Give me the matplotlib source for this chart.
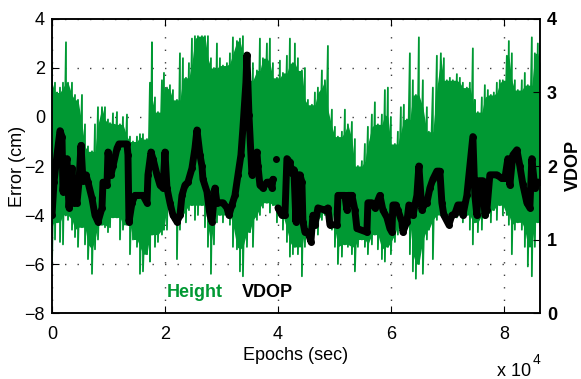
import numpy as np
import matplotlib.pyplot as plt

# Height error (cm): upper and lower edge of the noisy trace, read at these epochs (s)
env_epochs = [
    0, 531, 885, 1416, 1947, 2478, 2832, 3540, 4071, 4602,
    5310, 5841, 6372, 7080, 7611, 8142, 8850, 9381, 9912, 10266,
    10797, 11505, 12036, 12567, 13275, 13806, 14337, 15045, 15576, 16107,
    16815, 17346, 17700, 18231, 18762, 19470, 19824, 20355, 20886, 21417,
    22125, 22656, 23187, 23718, 24249, 24780, 25311, 25842, 26550, 27081,
    27612, 28143, 28674, 29205, 29736, 30267, 30975, 31506, 32037, 32745,
    33276, 33807, 34515, 35046, 35577, 36285, 36816, 37347, 38055, 38586,
    39117, 39825, 40356, 40887, 41595, 42126, 42657, 43011, 43542, 44250,
    44781, 45312, 46020, 46551, 47082, 47790, 48321, 48852, 49560, 50091,
    50622, 51330, 51861, 52392, 53100, 53631, 54162, 54870, 55401, 55932,
    56640, 57171, 57702, 58410, 58941, 59472, 60003, 60711, 61242, 61773,
    62304, 62835, 63366, 63897, 64428, 64959, 65667, 66375, 66729, 67437,
    68145, 68853, 69384, 69915, 70446, 70977, 71685, 72216, 72747, 73455,
    73986, 74517, 74871, 75402, 76110, 76641, 77172, 77703, 78234, 78765,
    79296, 79827, 80535, 80889, 81420, 81951, 82482, 83190, 83721, 84252,
    84960, 85491, 86022, 86400,
]
height_high = [
    2.2, 1.4, 1.0, 1.2, 1.4, 3.05, 1.4, 1.4, 0.9, 0.7,
    0.9, -0.3, -1.2, -1.4, -0.3, 0.4, 0.4, 0.4, -0.1, -0.25,
    0.15, 0.2, -0.3, 0.0, 0.1, -0.8, -1.0, -0.8, -0.7, -0.7,
    -0.9, 1.4, 3.05, 0.8, 0.2, 1.5, 1.8, 1.2, 1.3, 1.1,
    0.7, 2.6, 2.4, 1.6, 2.2, 3.2, 3.3, 3.3, 3.3, 3.3,
    3.3, 2.4, 2.0, 3.0, 2.4, 2.1, 2.2, 2.6, 3.25, 3.1,
    3.2, 3.3, 2.6, 1.5, 2.2, 1.9, 3.2, 2.4, 3.0, 3.2,
    2.2, 1.6, 2.3, 1.8, 2.5, 3.2, 2.2, 3.0, 2.4, 1.9,
    2.0, 0.7, 0.5, 1.0, 1.2, 1.9, 1.5, 2.9, 0.3, -0.4,
    -0.8, -0.6, 0.3, -0.3, -0.2, -0.9, -2.0, -1.8, -1.1, -0.4,
    0.1, 0.6, -0.3, 0.1, 1.1, 1.2, 0.0, -1.1, -0.6, 0.4,
    0.5, -0.1, 2.6, 1.5, 0.9, 3.25, 1.5, 0.4, -0.6, 1.2,
    2.5, 2.6, 2.4, 1.5, 1.6, 1.5, 1.75, 1.6, 1.4, 1.2,
    1.4, 2.8, 0.7, 0.2, 0.8, 1.3, 1.1, 0.9, 1.0, 1.4,
    1.5, 1.5, 2.5, 3.1, 2.6, 1.5, 1.1, 1.5, 1.8, 1.3,
    3.25, 2.6, 3.0, 2.9,
]
height_low = [
    -6.0, -5.0, -4.3, -5.1, -5.2, -4.0, -4.2, -4.6, -4.9, -5.3,
    -4.5, -5.2, -5.8, -6.4, -5.4, -5.0, -4.4, -4.5, -4.7, -4.5,
    -4.1, -4.1, -5.0, -4.6, -4.4, -5.6, -5.0, -5.3, -6.4, -6.3,
    -5.6, -5.9, -4.8, -5.3, -5.1, -4.8, -4.6, -4.6, -3.6, -4.2,
    -5.8, -4.6, -4.0, -4.3, -3.8, -3.6, -4.2, -4.0, -3.6, -4.5,
    -5.3, -6.4, -5.2, -4.3, -4.0, -4.3, -4.0, -4.4, -5.3, -5.4,
    -6.3, -6.5, -5.3, -4.7, -5.3, -4.2, -4.0, -3.7, -3.5, -3.9,
    -3.6, -4.3, -4.0, -4.6, -5.1, -5.7, -5.6, -5.3, -5.6, -6.5,
    -5.3, -4.6, -4.8, -4.4, -4.8, -4.2, -4.0, -3.8, -4.6, -5.3,
    -6.0, -5.7, -5.2, -5.3, -5.6, -6.3, -5.3, -5.0, -5.3, -5.6,
    -5.2, -4.8, -5.4, -5.8, -5.9, -5.3, -5.6, -5.1, -4.8, -4.4,
    -4.5, -4.3, -5.6, -6.3, -6.6, -6.0, -6.4, -5.0, -4.6, -5.8,
    -4.2, -4.0, -4.1, -4.0, -4.2, -4.0, -4.1, -4.0, -4.3, -4.0,
    -4.6, -5.2, -4.3, -4.7, -4.6, -4.0, -4.0, -4.3, -3.8, -4.2,
    -3.6, -4.0, -4.0, -4.4, -5.6, -4.6, -4.3, -4.6, -5.3, -6.1,
    -6.5, -5.3, -4.3, -4.4,
]

# VDOP trace (nan = gap around the lone sample near 4e4 s)
vdop_epochs = [
    0, 354, 885, 1416, 1770, 1947, 2301, 2655, 3009, 3540,
    3894, 4425, 4779, 5133, 5487, 6018, 6372, 7080, 7611, 8142,
    8850, 9027, 9735, 9912, 10443, 10797, 11505, 11859, 13275, 13452,
    13629, 14160, 14691, 15045, 16107, 16815, 16992, 17523, 17877, 18585,
    19116, 19647, 20001, 20355, 20886, 21417, 22125, 22656, 23010, 23541,
    24072, 24780, 25311, 25665, 26196, 26550, 26727, 27435, 27966, 28320,
    28851, 29205, 30267, 30975, 31329, 31860, 32391, 32922, 33453, 33807,
    34338, 34515, 34869, 35400, 35577, 36285, 36462, 36816, 37347, 38055,
    38586, 38940, 39117, 39380, 39648, 39820, 40002, 40710, 41241, 41595,
    42126, 42480, 42834, 43188, 43365, 43896, 44250, 44427, 44781, 45312,
    45843, 46197, 46551, 47082, 48321, 48852, 49206, 50445, 50622, 51861,
    52215, 52392, 53100, 53631, 53985, 55755, 55932, 56640, 57171, 57525,
    58056, 58587, 59295, 59826, 60180, 60357, 60888, 61242, 61950, 62127,
    62835, 63189, 63720, 63897, 64605, 64959, 65490, 65667, 66375, 66906,
    67437, 68145, 68676, 69030, 69384, 70269, 70800, 71331, 71862, 72570,
    72747, 73455, 74517, 74871, 75225, 75579, 76287, 76641, 76995, 77526,
    78765, 79650, 80181, 80712, 81066, 81597, 82305, 82836, 83367, 84075,
    84606, 84960, 85491, 86022, 86400,
]
vdop = [
    1.33, 1.78, 2.15, 2.48, 2.4, 1.65, 2.0, 2.1, 1.43, 1.97,
    1.5, 1.5, 1.78, 2.28, 1.8, 1.88, 1.78, 1.56, 1.33, 1.24,
    1.43, 1.78, 1.74, 2.19, 1.88, 2.0, 2.24, 2.3, 2.3, 2.15,
    1.24, 1.5, 1.6, 1.6, 1.6, 1.5, 1.88, 2.19, 2.1, 1.88,
    1.74, 1.7, 2.19, 1.7, 1.5, 1.33, 1.24, 1.33, 1.6, 1.74,
    1.78, 1.97, 2.24, 2.49, 2.15, 2.0, 1.82, 1.65, 1.33, 1.24,
    1.7, 1.5, 1.5, 1.43, 1.33, 1.47, 1.6, 1.88, 2.15, 2.52,
    3.14, 3.51, 2.7, 1.88, 1.97, 2.19, 2.0, 1.74, 1.7, 1.78,
    1.78, 1.7, 1.82, np.nan, 2.1, np.nan, 1.43, 1.33, 1.33, 2.1,
    2.05, 1.9, 1.95, 1.24, 1.88, 1.88, 1.78, 1.24, 1.1, 1.1,
    0.97, 1.33, 1.2, 1.43, 1.4, 1.43, 1.2, 1.2, 1.6, 1.6,
    1.4, 1.6, 1.6, 1.4, 1.15, 1.1, 1.5, 1.5, 1.43, 1.5,
    1.6, 1.4, 1.3, 1.15, 1.1, 1.47, 1.47, 1.4, 1.24, 1.1,
    1.24, 1.47, 1.45, 1.33, 1.6, 2.0, 1.4, 1.45, 1.5, 1.7,
    1.82, 1.93, 1.93, 1.5, 1.33, 1.2, 1.33, 1.35, 1.47, 1.47,
    1.33, 1.6, 2.4, 1.6, 1.33, 1.8, 1.8, 1.33, 1.4, 1.88,
    1.88, 1.83, 1.83, 2.1, 1.74, 2.15, 2.22, 2.0, 1.75, 1.5,
    1.43, 2.1, 1.7, 1.78, 1.78,
]

x_ticks = [0, 20000, 40000, 60000, 80000]
x_tick_labels = ["0", "2", "4", "6", "8"]
err_ticks = [-8, -6, -4, -2, 0, 2, 4]
vdop_ticks = [0, 1, 2, 3, 4]

green = "#009933"

plt.rcParams["font.family"] = ["Liberation Sans", "DejaVu Sans"]
plt.rcParams["axes.linewidth"] = 1.1

fig = plt.figure(figsize=(5.81, 3.79), dpi=100)
ax = fig.add_axes([0.0895, 0.1741, 0.8399, 0.7758])

# noisy height trace: the solid core only reaches the lower of each pair of
# neighbouring peaks, the line itself draws the narrow spikes
hi = np.array(height_high)
lo = np.array(height_low)
core_hi = np.minimum(hi, np.minimum(np.roll(hi, 1), np.roll(hi, -1)))
core_lo = np.maximum(lo, np.maximum(np.roll(lo, 1), np.roll(lo, -1)))
ax.fill_between(env_epochs, core_lo, core_hi, color=green, linewidth=0,
                zorder=2)
t = np.repeat(env_epochs, 2)
h = np.column_stack([hi, lo]).ravel()
ax.plot(t, h, color=green, linewidth=1.3, zorder=2)

ax.set_xlim(0, 86400)
ax.set_ylim(-8, 4)
ax.set_xticks(x_ticks)
ax.set_xticklabels(x_tick_labels)
ax.set_yticks(err_ticks)
ax.set_yticklabels([f"{v}".replace("-", "\u2212") for v in err_ticks])
ax.tick_params(direction="in", length=5, width=0.8, top=True, right=True,
               labelsize=13)
ax.tick_params(axis="x", pad=9)
ax.tick_params(axis="y", pad=5)
ax.grid(True, color="0.25", linestyle=(0, (1, 8)), linewidth=1.0)
ax.set_axisbelow(True)

ax.text(20355, -7.35, "Height", color=green, fontsize=13, fontweight="bold",
        va="baseline")
ax.text(33630, -7.35, "VDOP", color="black", fontsize=13, fontweight="bold",
        va="baseline")

ax2 = ax.twinx()
ax2.plot(vdop_epochs, vdop, color="black", linewidth=5, marker="o",
         markersize=4, solid_joinstyle="round", solid_capstyle="round")
ax2.set_ylim(0, 4)
ax2.set_yticks(vdop_ticks)
ax2.tick_params(direction="in", length=5, width=0.8, labelsize=13, pad=5)
for lab in ax2.get_yticklabels():
    lab.set_fontweight("bold")

fig.text(17 / 581, 1 - 166 / 379, "Error (cm)", rotation=90, fontsize=13,
         ha="center", va="center")
fig.text(573 / 581, 1 - 165 / 379, "VDOP", rotation=90, fontsize=13,
         fontweight="bold", ha="center", va="center")
fig.text(296 / 581, 1 - 356 / 379, "Epochs (sec)", fontsize=13,
         ha="center", va="center")
fig.text(497 / 581, 1 - 371 / 379, "x 10", fontsize=13, ha="left",
         va="center")
fig.text(533 / 581, 1 - 360 / 379, "4", fontsize=10, ha="left", va="center")

fig.savefig("out.png", dpi=100)
